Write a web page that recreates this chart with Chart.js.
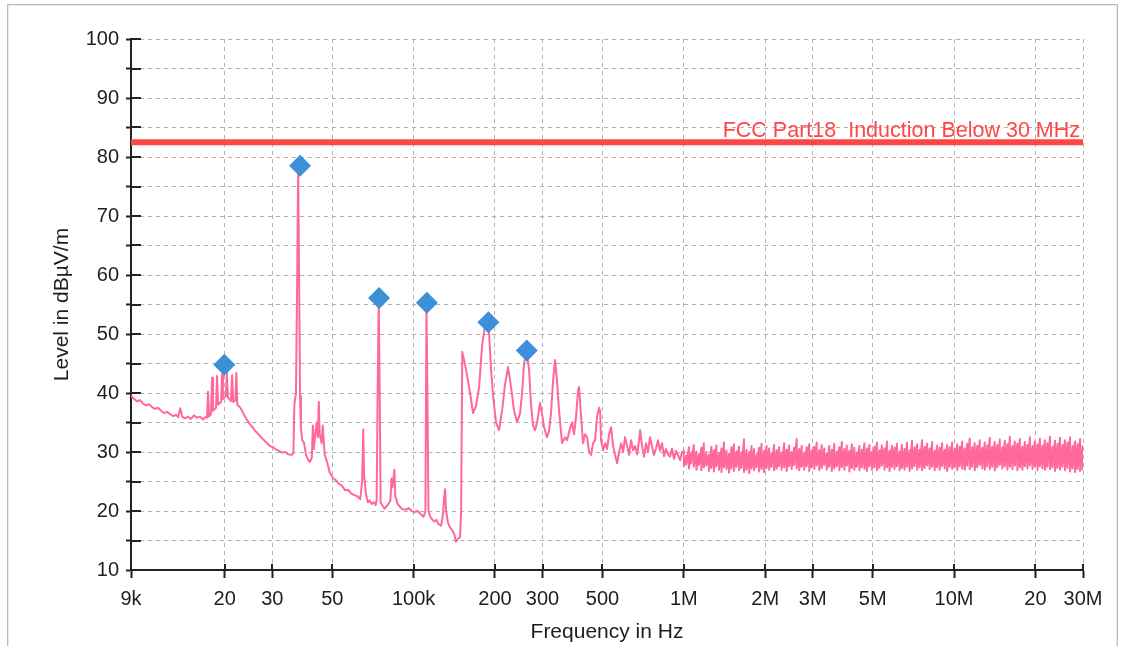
<!DOCTYPE html>
<html>
<head>
<meta charset="utf-8">
<script src="https://cdn.jsdelivr.net/npm/chart.js@4.4.1/dist/chart.umd.min.js"></script>
<style>
  html, body { margin: 0; padding: 0; background: #ffffff; }
  #frame { position: absolute; left: 7px; top: 4px; width: 1111px; height: 645px; box-sizing: border-box;
           border: 1px solid #bcbcbc; box-shadow: inset 0 0 0 1px #e9e9e9; }
  #c { position: absolute; left: 0; top: 0; }
</style>
</head>
<body>
<div id="frame"></div>
<canvas id="c" width="1122" height="646"></canvas>
<script>
// ---------------- data ----------------
const xTickValues = [9e3, 2e4, 3e4, 5e4, 1e5, 2e5, 3e5, 5e5, 1e6, 2e6, 3e6, 5e6, 1e7, 2e7, 3e7];
const xTickLabels = ['9k', '20', '30', '50', '100k', '200', '300', '500', '1M', '2M', '3M', '5M', '10M', '20', '30M'];
const yMin = 10, yMax = 100, yStep = 5;

const limitLevel = 82.5;
const limitLabel = 'FCC Part18  Induction Below 30 MHz';

const markerFreqKHz = [19.93, 38.0, 74.5, 112.0, 189.1, 262.3];
const markerLevel   = [44.8, 78.5, 56.1, 55.3, 52.0, 47.2];

// trace 9 kHz - 150 kHz : [kHz, dBµV/m]
const traceLow = [
 [9.00,39.6],[9.23,39.0],[9.47,38.6],[9.72,38.8],[9.97,38.2],[10.23,37.9],[10.50,38.1],[10.77,37.6],[11.05,37.3],[11.33,37.5],
 [11.63,37.0],[11.93,36.6],[12.24,36.8],[12.56,36.4],[12.88,36.1],[13.22,36.3],[13.45,35.9],[13.69,37.4],[13.92,36.0],[14.25,35.7],
 [14.62,36.0],[15.00,35.6],[15.39,36.2],[15.79,35.8],[16.20,36.0],[16.62,35.5],[16.90,35.9],[17.20,35.8],[17.35,40.2],[17.50,36.0],
 [17.80,36.5],[17.95,42.6],[18.10,37.0],[18.57,37.5],[18.73,42.9],[18.90,38.0],[19.40,38.5],[19.55,43.2],[19.70,39.0],[20.20,39.5],
 [20.37,43.4],[20.55,39.3],[21.10,38.6],[21.30,43.0],[21.50,38.5],[21.90,38.7],[22.08,43.4],[22.27,38.0],[22.86,37.5],[23.46,36.5],
 [24.08,35.6],[24.70,34.8],[25.36,34.2],[26.00,33.5],[26.70,33.0],[27.40,32.4],[28.10,31.9],[28.85,31.4],[29.40,31.0],[30.20,30.8],
 [31.00,30.4],[31.80,30.2],[32.60,29.9],[33.50,30.0],[34.40,29.6],[35.30,29.5],[35.90,29.8],[36.20,38.0],[36.70,40.0],[37.10,60.0],
 [37.40,78.2],[37.70,60.0],[38.00,39.5],[38.30,34.0],[38.70,32.0],[39.30,31.6],[40.00,29.5],[40.60,28.8],[41.30,28.3],[42.00,29.0],
 [42.40,34.5],[42.70,30.5],[43.40,33.5],[43.80,35.0],[44.20,32.5],[44.60,38.5],[44.90,33.0],[45.70,31.5],[46.10,34.5],[46.90,29.5],
 [47.70,28.5],[49.00,26.5],[50.30,25.6],[51.60,25.2],[52.90,24.6],[54.30,24.3],[55.80,23.5],[57.20,23.6],[58.70,23.0],[60.30,22.7],
 [61.90,22.5],[63.50,22.0],[64.50,25.0],[65.10,33.8],[65.60,26.0],[66.60,23.0],[67.70,21.5],[68.80,21.8],[70.00,21.2],[71.20,21.5],
 [72.40,21.0],[73.00,22.0],[73.60,40.0],[74.30,56.0],[74.90,40.0],[75.50,21.5],[76.80,20.9],[78.10,20.4],[79.40,20.8],[80.70,21.2],
 [82.10,21.8],[82.80,25.5],[83.50,24.0],[84.90,27.0],[85.60,22.5],[87.10,21.3],[88.60,20.8],[91.00,20.3],[93.40,20.2],[95.80,20.5],
 [98.30,20.0],[100.80,19.8],[103.40,20.0],[106.10,19.5],[108.80,19.0],[110.60,20.0],[111.60,55.0],[112.50,40.0],[113.50,20.0],[115.40,19.0],
 [117.40,18.5],[119.40,18.2],[121.40,18.5],[123.50,17.8],[126.40,17.5],[128.50,19.5],[129.60,22.0],[130.70,23.7],[131.90,20.0],[134.10,18.0],
 [136.40,17.2],[138.80,16.8],[141.20,16.2],[143.60,14.8],[146.10,15.3],[148.60,15.6],[149.90,20.0]
];

// trace 150 kHz - 1 MHz : [kHz, dBµV/m]
const traceMid = [
 [151.4,47.0],[156.3,44.0],[161.8,40.0],[165.9,36.6],[170.2,37.8],[174.7,41.0],[179.2,48.0],[183.8,51.5],[187.0,51.8],[190.2,50.0],
 [193.5,44.0],[196.8,39.5],[201.9,35.0],[207.1,33.7],[212.5,37.0],[218.0,41.5],[223.6,44.4],[229.4,41.0],[235.4,37.0],[241.5,35.1],
 [247.7,36.5],[252.0,40.0],[256.3,45.0],[259.6,46.3],[263.0,46.5],[267.5,44.0],[272.0,38.0],[276.7,34.5],[281.4,33.7],[286.3,35.0],
 [293.7,38.3],[298.7,36.5],[303.9,34.2],[311.7,32.5],[317.1,33.5],[322.5,36.6],[328.1,42.0],[333.7,45.6],[339.5,42.0],[345.3,37.0],
 [354.3,31.5],[363.4,32.5],[369.7,32.0],[379.2,34.0],[385.8,35.0],[392.4,33.0],[399.2,36.0],[406.1,40.5],[409.6,41.0],[416.6,36.0],
 [423.8,31.5],[431.0,33.0],[438.5,32.5],[446.0,30.0],[453.7,29.5],[461.5,31.5],[469.4,32.0],[477.5,36.0],[485.7,37.5],[489.9,37.0],
 [494.1,32.0],[502.6,30.3],[511.2,31.5],[520.0,30.5],[528.9,33.0],[538.0,34.2],[547.3,31.0],[556.7,29.5],[566.3,28.1],[576.0,30.0],
 [585.9,31.5],[596.0,30.0],[606.2,32.5],[616.6,31.0],[627.2,29.5],[638.0,32.0],[649.0,30.3],[660.2,31.0],[671.5,29.6],[683.0,32.0],
 [689.0,33.7],[700.3,31.0],[712.3,29.2],[724.5,31.5],[737.0,30.0],[749.6,32.5],[762.5,31.0],[775.6,29.5],[788.9,30.6],[802.6,32.0],
 [816.4,30.2],[830.4,31.5],[844.6,29.3],[859.1,30.5],[874.0,29.6],[889.1,29.2],[904.3,30.6],[919.9,28.8],[935.7,30.2],[951.8,29.5],
 [968.1,28.6],[984.8,30.0]
];

// trace 1 MHz - 30 MHz : [kHz, max dBµV/m, min dBµV/m]
const traceHigh = [
 [1000,30.2,27.6],[1022,29.4,27.9],[1044,30.8,27.2],[1066,29.9,28.1],[1089,31.2,27.5],[1113,30.1,27.0],[1137,29.6,27.8],[1161,30.7,26.9],
 [1186,31.5,27.4],[1212,30.0,27.7],[1238,29.5,26.8],[1265,30.9,27.3],[1292,30.3,26.7],[1320,31.1,27.6],[1349,29.8,27.0],[1378,30.6,26.6],
 [1408,31.6,27.4],[1438,30.2,27.1],[1469,29.7,26.5],[1501,30.8,27.2],[1533,31.3,26.8],[1566,30.1,27.5],[1600,30.9,26.9],[1635,29.9,27.3],
 [1670,32.1,26.6],[1706,30.4,27.0],[1743,30.0,26.4],[1781,31.0,27.2],[1819,30.5,26.9],[1858,29.6,27.4],[1898,30.7,26.7],[1939,31.4,27.1],
 [1981,30.2,26.6],[2024,31.0,27.3],[2068,30.6,27.0],[2112,29.8,27.5],[2158,31.2,26.9],[2205,30.3,27.2],[2252,30.8,27.6],[2301,29.9,27.0],
 [2351,31.5,27.4],[2401,30.4,26.8],[2453,31.1,27.6],[2506,30.0,27.1],[2560,30.7,27.8],[2616,32.2,27.2],[2672,30.5,26.9],[2730,31.0,27.5],
 [2789,29.9,27.0],[2849,30.8,27.6],[2911,31.3,26.8],[2973,30.2,27.4],[3038,30.9,27.1],[3103,31.6,27.7],[3170,30.3,26.9],[3239,31.2,27.3],
 [3309,30.6,27.8],[3380,29.8,27.0],[3453,31.0,27.5],[3528,30.4,26.8],[3604,31.4,27.2],[3682,30.1,27.6],[3761,30.8,26.9],[3843,31.7,27.4],
 [3926,30.5,27.0],[4010,31.1,27.7],[4097,30.2,26.7],[4186,31.3,27.3],[4276,30.7,27.0],[4368,29.9,27.5],[4463,31.0,26.9],[4559,30.4,27.4],
 [4658,31.5,27.1],[4758,30.6,26.8],[4861,31.2,27.6],[4966,30.0,27.0],[5073,30.9,27.4],[5183,31.6,26.9],[5295,30.3,27.3],[5409,31.1,27.7],
 [5526,30.6,27.0],[5645,31.8,27.4],[5767,30.2,26.8],[5892,31.0,27.5],[6019,30.7,27.1],[6149,31.4,27.6],[6282,30.1,26.9],[6418,31.2,27.3],
 [6556,30.5,27.0],[6698,31.6,27.5],[6843,30.3,26.8],[6990,31.9,27.2],[7141,30.8,27.6],[7296,31.3,27.0],[7453,30.4,27.4],[7614,32.0,26.9],
 [7779,30.9,27.3],[7947,31.4,27.7],[8118,30.6,27.1],[8294,31.7,27.5],[8473,30.2,26.9],[8656,31.1,27.4],[8843,30.7,27.0],[9034,31.5,27.6],
 [9229,30.4,27.2],[9428,31.2,26.8],[9632,30.8,27.5],[9840,31.6,27.1],[10052,30.5,27.4],[10269,31.3,26.9],[10491,30.9,27.6],[10718,31.8,27.2],
 [10949,30.6,27.0],[11186,31.4,27.7],[11427,32.3,27.1],[11674,30.8,27.5],[11926,31.5,26.9],[12184,31.0,27.4],[12447,32.0,27.8],[12716,30.7,27.2],
 [12991,31.6,27.0],[13271,31.1,27.6],[13558,32.4,27.1],[13851,30.9,27.5],[14150,31.7,26.9],[14456,31.2,27.4],[14768,32.1,27.8],[15087,30.8,27.2],
 [15413,31.9,27.6],[15746,31.3,27.0],[16086,32.6,27.5],[16433,31.0,27.1],[16788,31.8,27.7],[17151,31.4,26.9],[17521,32.2,27.4],[17900,30.9,27.0],
 [18287,31.7,27.6],[18682,31.2,27.2],[19085,32.5,27.7],[19497,31.0,27.1],[19918,31.8,27.5],[20349,31.3,26.9],[20788,32.3,27.6],[21237,31.1,27.2],
 [21696,32.0,27.0],[22165,31.5,27.5],[22644,32.6,27.1],[23133,30.9,27.4],[23632,31.9,26.8],[24143,31.4,27.3],[24664,32.4,27.0],[25197,31.2,27.5],
 [25741,32.0,26.9],[26297,31.6,27.3],[26865,32.5,26.7],[27446,31.0,27.2],[28039,31.8,26.6],[28644,31.3,27.1],[29263,32.2,26.8],[29895,31.0,27.0],
 [30000,30.4,27.6]
];

// ---------------- styling ----------------
const FONT = "'Liberation Sans', Arial, sans-serif";
const TEXT = '#1e1e1e';
const GRID = '#b2b2b2';
const AXIS = '#222222';
const TRACE = '#ff6898';
const MARKER = '#3d8fd8';
const LIMIT = '#ff4646';

const tracePoints = traceLow.concat(traceMid).map(([f, l]) => ({ x: f * 1000, y: l }))
  .concat(traceHigh.flatMap(([f, a, b]) => [{ x: f * 1000, y: a }, { x: f * 1000, y: b }]));
const markerPoints = markerFreqKHz.map((f, i) => ({ x: f * 1000, y: markerLevel[i] }));
const limitPoints = [{ x: xTickValues[0], y: limitLevel }, { x: xTickValues[xTickValues.length - 1], y: limitLevel }];

const extras = {
  id: 'extras',
  beforeDatasetsDraw(chart) {
    const { ctx, scales: { x, y }, chartArea } = chart;
    ctx.save();
    ctx.strokeStyle = AXIS;
    ctx.lineWidth = 2;
    ctx.beginPath();
    y.ticks.forEach(t => {
      const py = Math.round(y.getPixelForValue(t.value));
      ctx.moveTo(chartArea.left, py); ctx.lineTo(chartArea.left + 10, py);
    });
    x.ticks.forEach(t => {
      const px = Math.round(x.getPixelForValue(t.value));
      ctx.moveTo(px, chartArea.bottom); ctx.lineTo(px, chartArea.bottom - 6);
    });
    ctx.stroke();
    ctx.restore();
  },
  afterDatasetsDraw(chart) {
    const { ctx, scales: { x, y } } = chart;
    ctx.save();
    ctx.font = '21.5px ' + FONT;
    ctx.fillStyle = LIMIT;
    ctx.textAlign = 'right';
    ctx.textBaseline = 'alphabetic';
    ctx.fillText(limitLabel, x.getPixelForValue(xTickValues[xTickValues.length - 1]) - 3, y.getPixelForValue(limitLevel) - 5);
    ctx.restore();
  }
};

new Chart(document.getElementById('c'), {
  type: 'line',
  data: {
    datasets: [
      { label: 'markers', data: markerPoints, showLine: false, pointStyle: 'rectRot', pointRadius: 11,
        pointBackgroundColor: MARKER, pointBorderColor: MARKER, pointBorderWidth: 0 },
      { label: 'limit', data: limitPoints, borderColor: LIMIT, borderWidth: 6, pointRadius: 0 },
      { label: 'trace', data: tracePoints, borderColor: TRACE, borderWidth: 2, pointRadius: 0,
        tension: 0, borderJoinStyle: 'round' }
    ]
  },
  options: {
    responsive: false,
    animation: false,
    events: [],
    layout: { padding: { top: 39, right: 39, bottom: 0, left: 0 } },
    plugins: { legend: { display: false }, tooltip: { enabled: false } },
    scales: {
      x: {
        type: 'logarithmic', min: xTickValues[0], max: xTickValues[xTickValues.length - 1],
        afterBuildTicks: s => { s.ticks = xTickValues.map(v => ({ value: v })); },
        afterFit: s => { s.height = 76; },
        ticks: { autoSkip: false, maxRotation: 0, minRotation: 0, padding: 9, color: TEXT,
                 font: { family: FONT, size: 20 }, callback: (v, i) => xTickLabels[i] },
        grid: { color: GRID, lineWidth: 1, tickLength: 8, tickColor: AXIS, tickWidth: 2 },
        border: { display: true, color: AXIS, width: 2, dash: [4, 4] },
        title: { display: true, text: 'Frequency in Hz', color: TEXT, font: { family: FONT, size: 21 },
                 padding: { top: 0, bottom: 1 } }
      },
      y: {
        type: 'linear', min: yMin, max: yMax,
        afterFit: s => { s.width = 131; },
        ticks: { stepSize: yStep, autoSkip: false, padding: 7, color: TEXT, font: { family: FONT, size: 20 },
                 callback: v => (v % 10 === 0 ? String(v) : '') },
        grid: { color: GRID, lineWidth: 1, tickLength: 5, tickColor: AXIS, tickWidth: 2 },
        border: { display: true, color: AXIS, width: 2, dash: [4, 4] },
        title: { display: true, text: 'Level in dBµV/m', color: TEXT, font: { family: FONT, size: 21 },
                 padding: { top: 50, bottom: 0 } }
      }
    }
  },
  plugins: [extras]
});
</script>
</body>
</html>
